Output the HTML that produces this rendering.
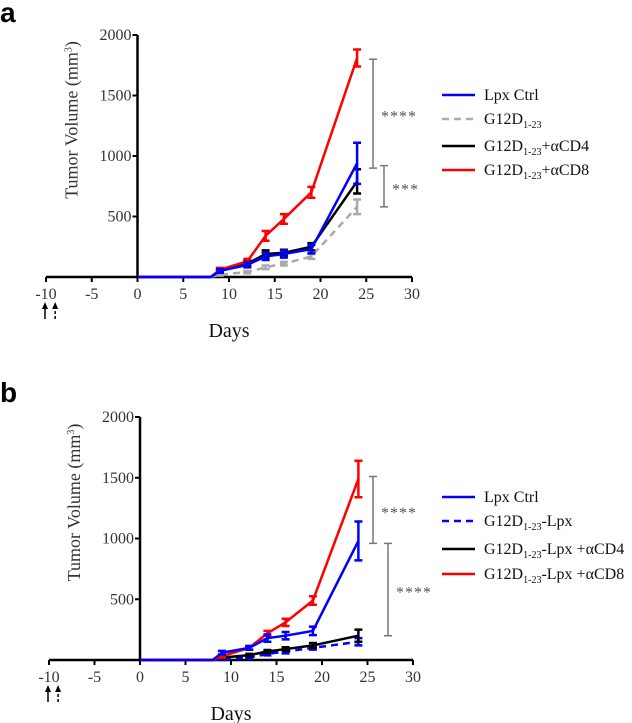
<!DOCTYPE html>
<html><head><meta charset="utf-8"><style>
body{margin:0;background:#fff;width:632px;height:723px;overflow:hidden}
svg{display:block;font-family:"Liberation Serif",serif}
</style></head><body>
<svg id="s" width="632" height="723"></svg>
<script>
const days=[0,8,9,12,14,16,19,24];
const aCtrl=[0,0,50,100,170,190,230,940];
const aCtrlErr=[0,0,15,20,30,30,35,170];
const aG12=[0,0,20,40,80,110,170,580];
const aG12Err=[0,0,8,10,15,15,20,60];
const aCD4=[0,0,50,110,190,200,250,790];
const aCD4Err=[0,0,15,20,30,25,30,100];
const aCD8=[0,0,60,130,340,480,700,1810];
const aCD8Err=[0,0,15,20,40,40,45,70];
const bCtrl=[0,0,60,100,180,200,240,980];
const bCtrlErr=[0,0,15,15,30,30,35,160];
const bLpx=[0,0,5,20,50,70,100,150];
const bLpxErr=[0,0,5,8,12,15,15,30];
const bCD4=[0,0,20,40,70,90,120,200];
const bCD4Err=[0,0,8,10,12,15,20,50];
const bCD8=[0,0,30,100,220,310,490,1490];
const bCD8Err=[0,0,10,15,20,30,35,150];
const xTicks=[-10,-5,0,5,10,15,20,25,30];
const yTicks=[500,1000,1500,2000];
const S=document.getElementById('s');
const NS='http://www.w3.org/2000/svg';
function el(t,a,txt){const e=document.createElementNS(NS,t);for(const k in a)e.setAttribute(k,a[k]);if(txt!==undefined)e.textContent=txt;S.appendChild(e);return e;}
function panel(p){
 const X=v=>p.x0+(v+10)*(p.x1-p.x0)/40;
 const Y=v=>p.y0-v*(p.y0-p.y2000)/2000;
 let e=el('text',{x:p.lx,y:p.ly,'font-family':'Liberation Sans,sans-serif','font-weight':'bold','font-size':28},p.letter);
 
 e=el('line',{x1:X(-10),x2:X(30),y1:p.y0,y2:p.y0,stroke:'#000','stroke-width':2.5});
 
 e=el('line',{x1:X(0),x2:X(0),y1:p.y0,y2:Y(2000),stroke:'#000','stroke-width':2.5});
 
 xTicks.forEach(t=>{el('line',{x1:X(t),x2:X(t),y1:p.y0,y2:p.y0+5,stroke:'#000','stroke-width':2});
  e=el('text',{x:X(t),y:p.y0+22,'text-anchor':'middle','font-size':16,fill:'#333'},t);
  });
 yTicks.forEach(t=>{el('line',{x1:X(0)-5,x2:X(0),y1:Y(t),y2:Y(t),stroke:'#000','stroke-width':2});
  e=el('text',{x:X(0)-6,y:Y(t)+5,'text-anchor':'end','font-size':16,fill:'#333'},t);
  });
 const tx=X(0)-60,ty=(p.y0+Y(2000))/2-36;
 e=el('text',{x:tx,y:ty,'text-anchor':'middle','font-size':18,fill:'#333',transform:`rotate(-90 ${tx} ${ty})`});
 e.innerHTML='Tumor Volume (mm<tspan dy="-6" font-size="10">3</tspan><tspan dy="6">)</tspan>';
 
 e=el('text',{x:X(10),y:p.y0+60,'text-anchor':'middle','font-size':20,fill:'#111'},'Days');
 
 [X(-10)-1,X(-9)].forEach((ax,i)=>{el('line',{x1:ax,x2:ax,y1:p.y0+42,y2:p.y0+29,stroke:'#000','stroke-width':1.5,'stroke-dasharray':i?'3,2':''});
  e=el('polygon',{points:`${ax-3},${p.y0+32} ${ax+3},${p.y0+32} ${ax},${p.y0+25}`,fill:'#000'});
  });
 p.series.forEach(s=>{
  const pts=days.map((d,i)=>X(d)+','+Y(s.v[i])).join(' ');
  e=el('polyline',{points:pts,fill:'none',stroke:s.c,'stroke-width':2.5,'stroke-dasharray':s.d||''});
  
  days.forEach((d,i)=>{if(i<2)return;const x=X(d),lo=Y(s.v[i]-s.e[i]),hi=Y(s.v[i]+s.e[i]);
   const g=el('path',{d:`M${x},${lo}V${hi}M${x-4},${hi}H${x+4}M${x-4},${lo}H${x+4}`,stroke:s.c,'stroke-width':2.5,fill:'none'});
   });
 });
 p.sig.forEach(g=>{const x=g.x,a=Y(g.a),b=Y(g.b);
  e=el('path',{d:`M${x-4},${a}H${x+4}M${x},${a}V${b}M${x-4},${b}H${x+4}`,stroke:'#777','stroke-width':1.5,fill:'none'});
  
  e=el('text',{x:x+8,y:(a+b)/2+8,'font-size':16,fill:'#555','letter-spacing':'1'},g.t);
  });
 p.legend.forEach((L,i)=>{const y=p.legY[i];
  e=el('line',{x1:442,x2:475,y1:y,y2:y,stroke:L.c,'stroke-width':2.5,'stroke-dasharray':L.d||''});
  
  e=el('text',{x:484,y:y+5,'font-size':16,fill:'#111'});e.innerHTML=L.t;
  });
}
const sub='G12D<tspan dy="4" font-size="10">1-23</tspan><tspan dy="-4">';
panel({letter:'a',lx:0,ly:22,x0:46,x1:412,y0:277,y2000:35,
 series:[{n:'g12d',v:aG12,e:aG12Err,c:'#aaa',d:'7,5'},{n:'cd4',v:aCD4,e:aCD4Err,c:'#000'},{n:'cd8',v:aCD8,e:aCD8Err,c:'#f00'},{n:'ctrl',v:aCtrl,e:aCtrlErr,c:'#00f'}],
 sig:[{x:373,a:1800,b:900,t:'****'},{x:384,a:920,b:580,t:'***'}],
 legY:[95,119,146,170],
 legend:[{t:'Lpx Ctrl',c:'#00f'},{t:sub+'</tspan>',c:'#aaa',d:'7,5'},{t:sub+'+αCD4</tspan>',c:'#000'},{t:sub+'+αCD8</tspan>',c:'#f00'}]});
panel({letter:'b',lx:0,ly:402,x0:49,x1:413,y0:660,y2000:417,
 series:[{n:'lpx',v:bLpx,e:bLpxErr,c:'#00f',d:'7,5'},{n:'cd4',v:bCD4,e:bCD4Err,c:'#000'},{n:'cd8',v:bCD8,e:bCD8Err,c:'#f00'},{n:'ctrl',v:bCtrl,e:bCtrlErr,c:'#00f'}],
 sig:[{x:373,a:1510,b:960,t:'****'},{x:388,a:960,b:200,t:'****'}],
 legY:[497,521,549,574],
 legend:[{t:'Lpx Ctrl',c:'#00f'},{t:sub+'-Lpx</tspan>',c:'#00f',d:'7,5'},{t:sub+'-Lpx  +αCD4</tspan>',c:'#000'},{t:sub+'-Lpx  +αCD8</tspan>',c:'#f00'}]});
</script>
</body></html>
